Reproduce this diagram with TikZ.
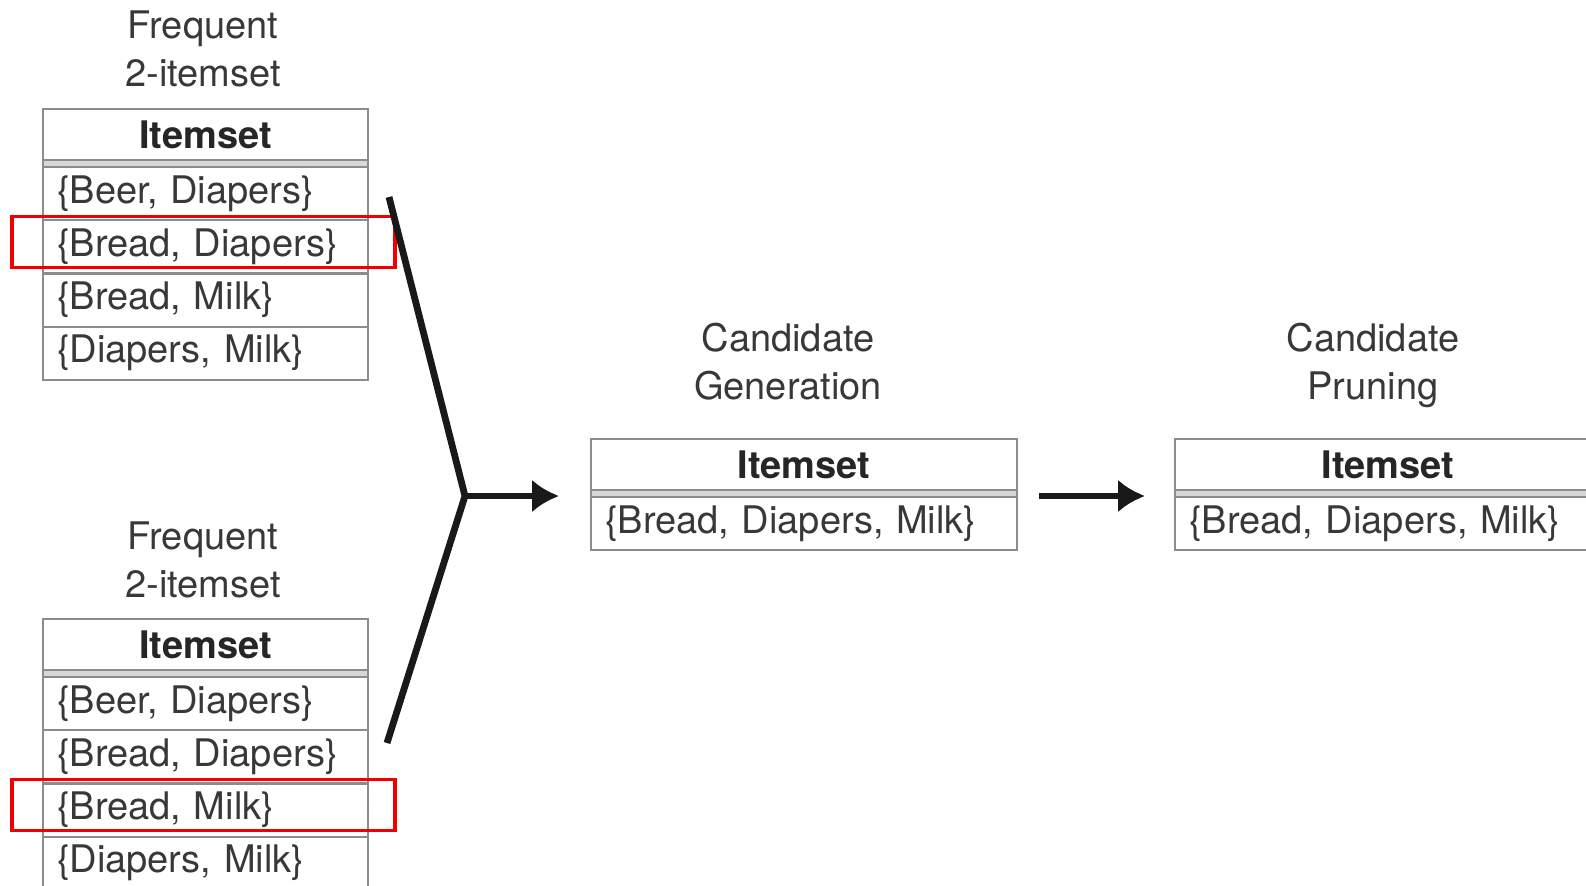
\documentclass[tikz,border=0pt]{standalone}
\usepackage{fontspec}
\setmainfont{TeX Gyre Heros}
\usetikzlibrary{positioning,calc,arrows.meta}
\definecolor{rule}{HTML}{8C8C8C}
\definecolor{ink}{HTML}{383838}
\definecolor{hilite}{HTML}{F20000}
\tikzset{
  txt/.style={font=\fontsize{19}{24}\selectfont, text=ink},
  hdr/.style={txt, font=\fontsize{19}{24}\selectfont\bfseries, text=black!85,
    draw=rule, line width=1.1pt, minimum height=25.5pt, inner sep=0pt, outer sep=0pt},
  gap/.style={draw=rule, fill=rule!35, line width=1.1pt, minimum height=3.5pt,
    inner sep=0pt, outer sep=0pt},
  cell/.style={txt, draw=rule, line width=1.1pt, minimum height=26.6pt,
    inner xsep=7pt, inner ysep=0pt, outer sep=0pt, align=left},
  narrow/.style={minimum width=162.5pt},
  wide/.style={minimum width=213pt},
  ncell/.style={cell, text width=148.5pt},
  wcell/.style={cell, text width=199pt},
  title/.style={txt, align=center, inner sep=0pt, anchor=south, text depth=0pt},
  redbox/.style={draw=hilite, line width=1.6pt},
  flow/.style={line width=3.4pt, black!90}
}
\begin{document}
\begin{tikzpicture}[x=0.5pt, y=-0.5pt, node distance=0pt, >={Latex[length=13.5pt,width=16.5pt]}]
  \clip (0,0) rectangle (1586,885);

  % first frequent 2-itemset table
  \node[title] (tA) at (203,87) {Frequent\\2-itemset};
  \node[hdr, narrow, anchor=north west] (hA) at (43,109) {Itemset};
  \node[gap, narrow, below=of hA] (gA) {};
  \node[ncell, below=of gA] (a1) {\{Beer, Diapers\}};
  \node[ncell, below=of a1] (a2) {\{Bread, Diapers\}};
  \node[ncell, below=of a2] (a3) {\{Bread, Milk\}};
  \node[ncell, below=of a3] (a4) {\{Diapers, Milk\}};

  % second frequent 2-itemset table
  \node[title] (tB) at (203,598) {Frequent\\2-itemset};
  \node[hdr, narrow, anchor=north west] (hB) at (43,619) {Itemset};
  \node[gap, narrow, below=of hB] (gB) {};
  \node[ncell, below=of gB] (b1) {\{Beer, Diapers\}};
  \node[ncell, below=of b1] (b2) {\{Bread, Diapers\}};
  \node[ncell, below=of b2] (b3) {\{Bread, Milk\}};
  \node[ncell, below=of b3] (b4) {\{Diapers, Milk\}};

  % rows that get merged
  \draw[redbox] ($(a2.north west)+(-31,-4)$) rectangle ($(a2.south east)+(27,-6)$);
  \draw[redbox] ($(b3.north west)+(-31,-4)$) rectangle ($(b3.south east)+(27,-6)$);

  % candidate generation
  \node[title] (tC) at (788,400) {Candidate\\Generation};
  \node[hdr, wide, anchor=north west] (hC) at (591,439) {Itemset};
  \node[gap, wide, below=of hC] (gC) {};
  \node[wcell, below=of gC] (c1) {\{Bread, Diapers, Milk\}};

  % candidate pruning
  \node[title] (tD) at (1373,400) {Candidate\\Pruning};
  \node[hdr, wide, anchor=north west] (hD) at (1175,439) {Itemset};
  \node[gap, wide, below=of hD] (gD) {};
  \node[wcell, below=of gD] (d1) {\{Bread, Diapers, Milk\}};

  % arrows
  \coordinate (fromA) at (389,197);
  \coordinate (fromB) at (387,743);
  \coordinate (join) at (465,496);
  \draw[flow] (fromA) -- (join) -- (fromB);
  \draw[flow, ->, shorten >=16pt] (join) -- (join -| hC.west);
  \draw[flow, ->, shorten <=11pt, shorten >=15pt] (hC.east |- join) -- (hD.west |- join);
\end{tikzpicture}
\end{document}
